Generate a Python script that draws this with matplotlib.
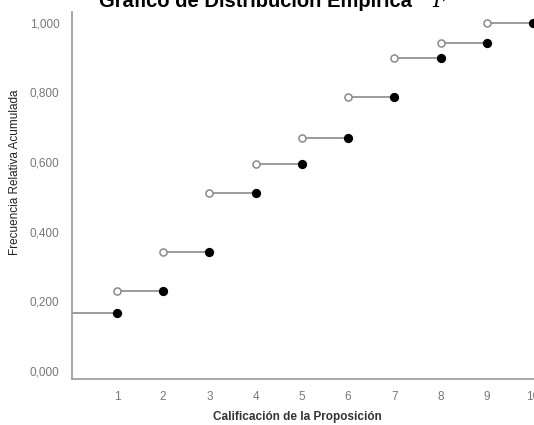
import matplotlib.pyplot as plt
from matplotlib.ticker import FuncFormatter, MultipleLocator

calificacion = [1, 2, 3, 4, 5, 6, 7, 8, 9, 10]
frec_acumulada = [0.168, 0.230, 0.342, 0.511, 0.595, 0.670, 0.787, 0.899, 0.943, 1.000]

plt.rcParams['font.family'] = ['Liberation Sans', 'DejaVu Sans']

figure = plt.figure(figsize=(5.34, 4.25), dpi=100)
x_limits = (0.03, 10.5)
y_limits = (-0.023, 1.032)
left_px, bottom_px, top_px = 72, 379, 11.7
px_per_x = 46.25
axes = figure.add_axes([left_px / 534, (425 - bottom_px) / 425,
                        (x_limits[1] - x_limits[0]) * px_per_x / 534,
                        (bottom_px - top_px) / 425])
axes.set(xlim=x_limits, ylim=y_limits)

line_color = '#8a8a8a'

# first step from the axis to the first point
axes.plot([x_limits[0], calificacion[0]], [frec_acumulada[0]] * 2,
          color=line_color, linewidth=1.2, zorder=1)
for i in range(1, len(calificacion)):
    axes.plot([calificacion[i - 1], calificacion[i]], [frec_acumulada[i]] * 2,
              color=line_color, linewidth=1.2, zorder=1)

axes.scatter(calificacion[:-1], frec_acumulada[1:], s=26, facecolor='white',
             edgecolor=line_color, linewidth=1.1, zorder=3, clip_on=False)
axes.scatter(calificacion, frec_acumulada, s=32, color='black', zorder=3,
             clip_on=False)

for side in ['top', 'right']:
    axes.spines[side].set_visible(False)
for side in ['left', 'bottom']:
    axes.spines[side].set_color('#999999')
    axes.spines[side].set_linewidth(1.2)

axes.xaxis.set_major_locator(MultipleLocator(1))
axes.yaxis.set_major_locator(MultipleLocator(0.2))
axes.yaxis.set_major_formatter(FuncFormatter(lambda v, p: f"{v:.3f}".replace('.', ',')))
axes.tick_params(length=0, labelsize=8.5, labelcolor='#777777')
axes.tick_params(axis='y', pad=9)
axes.tick_params(axis='x', pad=9)

figure.text(297 / 534, 1 - 417 / 425, "Calificación de la Proposición",
            ha='center', va='center', fontsize=8.5, fontweight='bold', color='#333333')
figure.text(15 / 534, 1 - 172 / 425, "Frecuencia Relativa Acumulada",
            ha='center', va='center', rotation=90, fontsize=8.5, color='#222222')

figure.text(255 / 534, 1 - 7 / 425, "Gráfico de Distribución Empírica",
            ha='center', va='baseline', fontsize=14.5, fontweight='bold', color='black')
figure.text(440 / 534, 1 - 7 / 425, "F", ha='center', va='baseline',
            fontsize=15, style='italic', family='DejaVu Serif', color='black')

figure.savefig("out.png", dpi=100)
